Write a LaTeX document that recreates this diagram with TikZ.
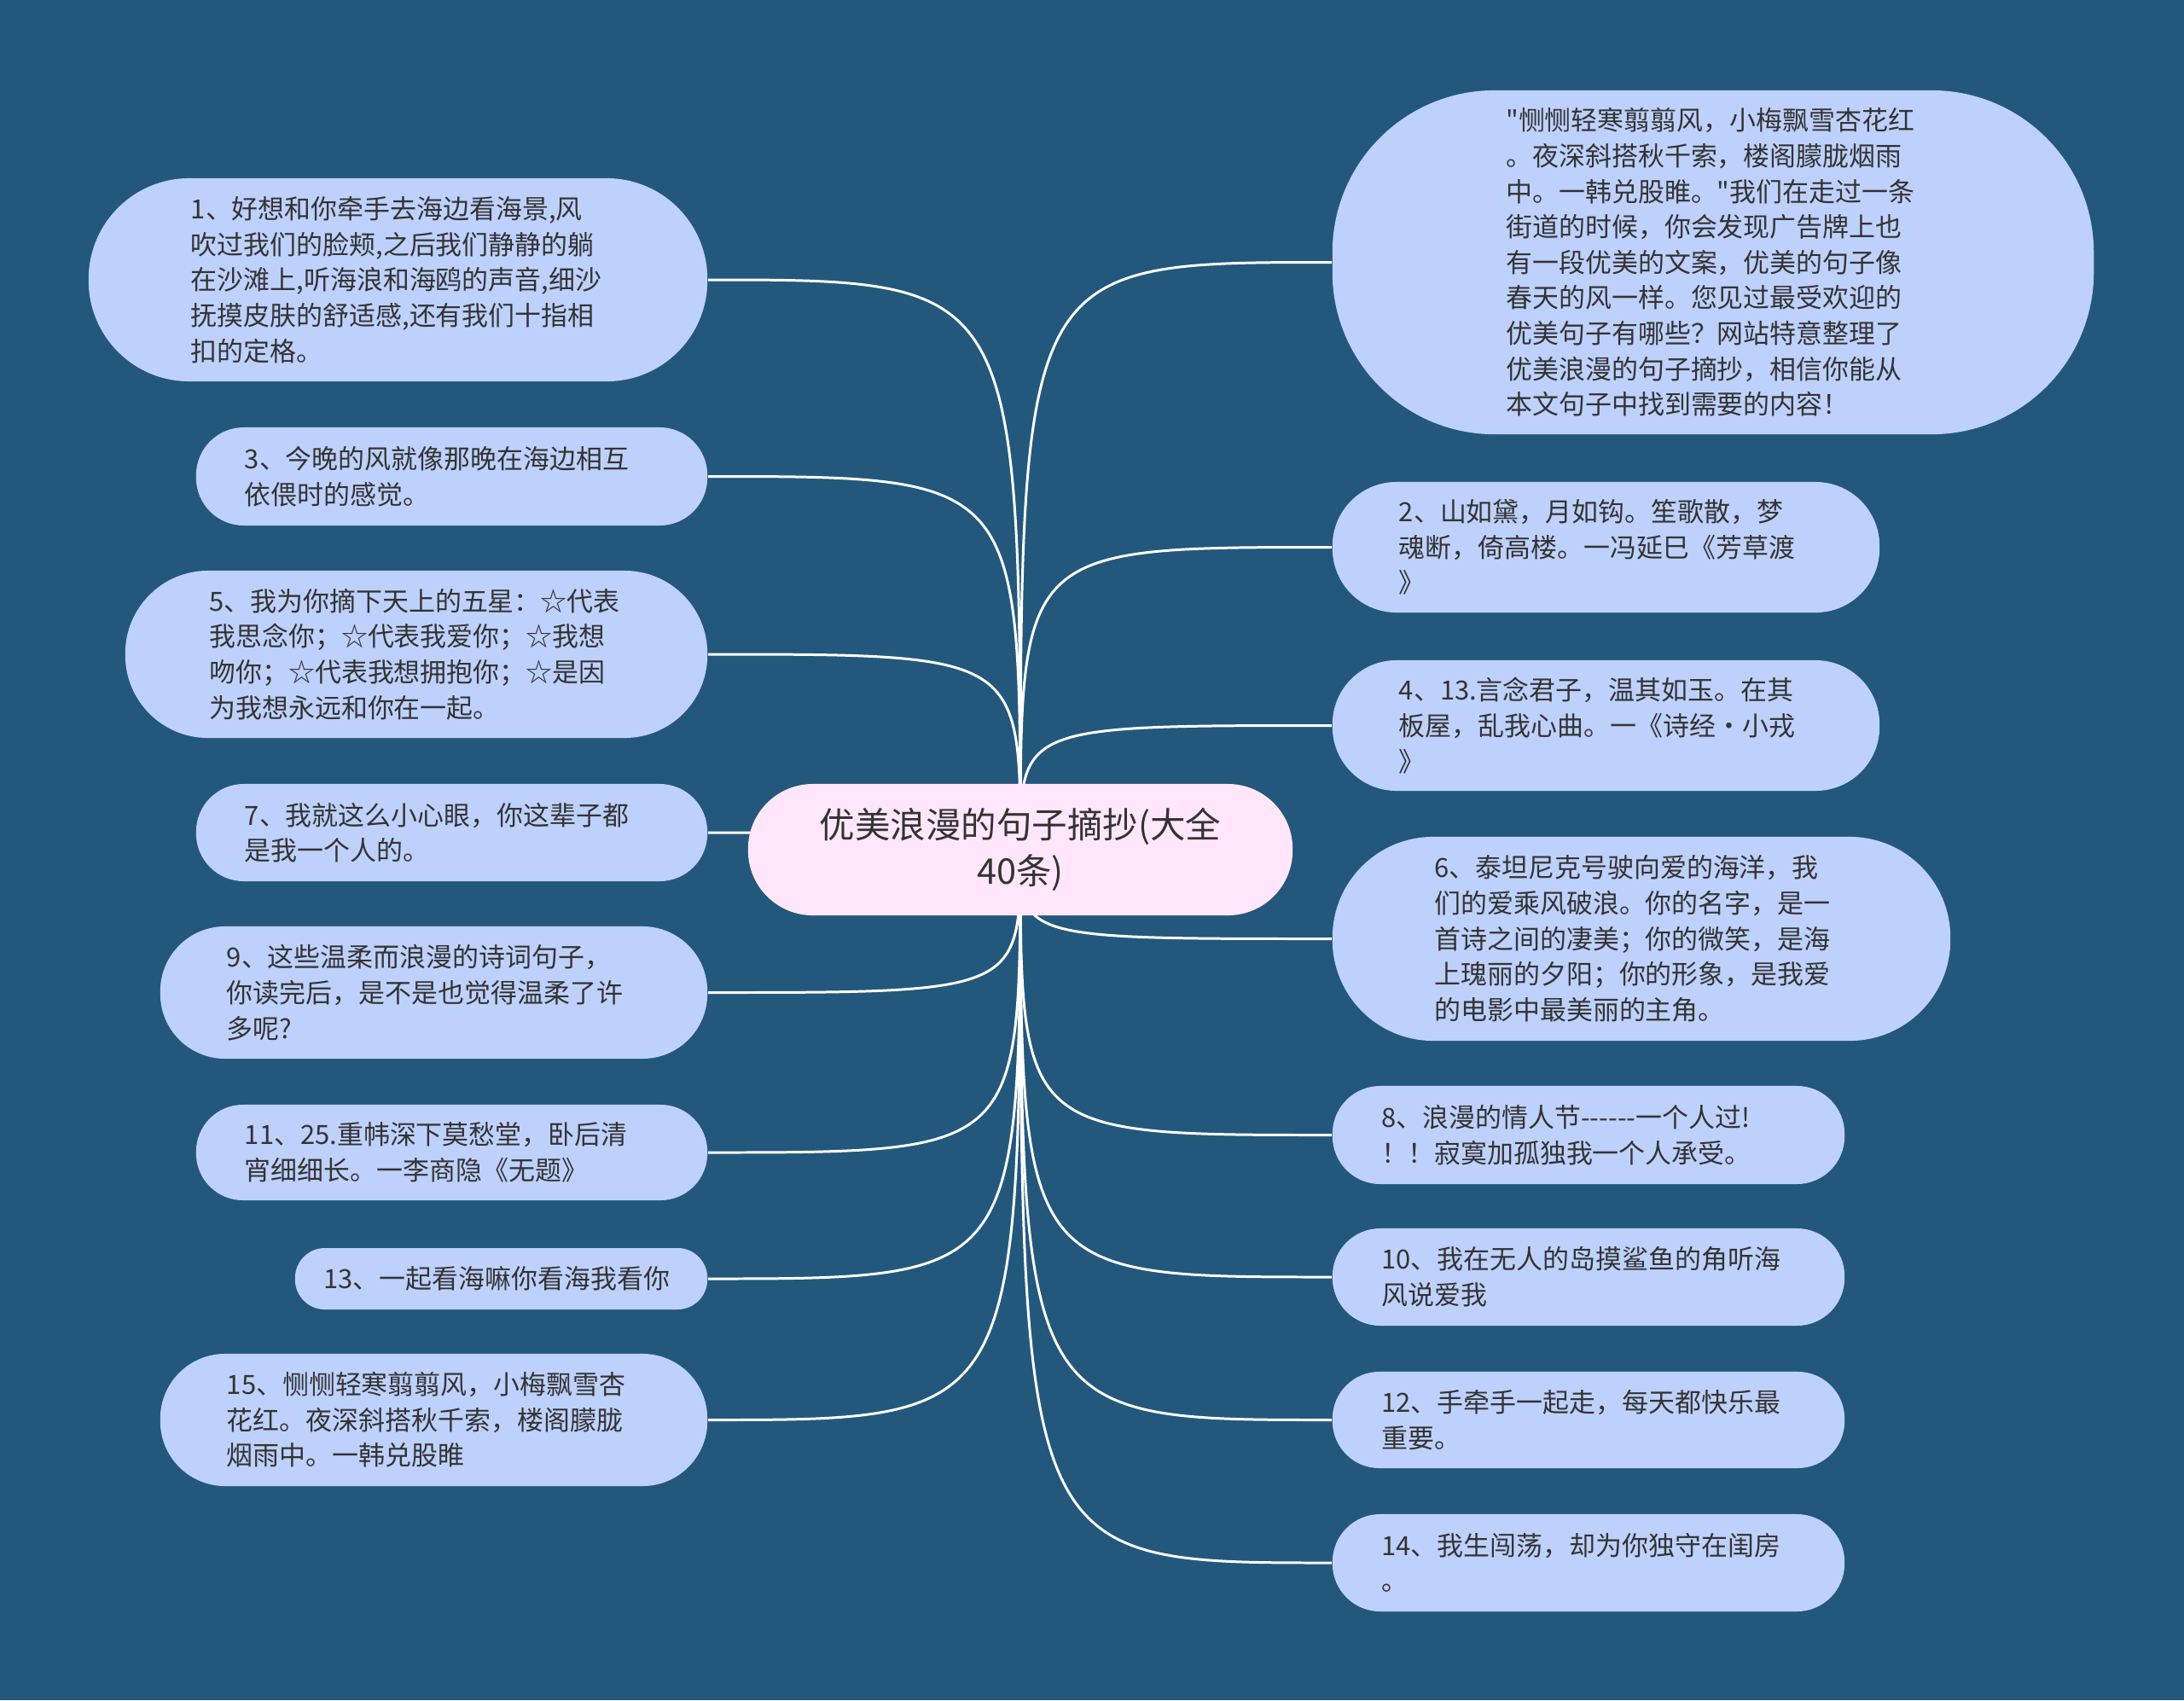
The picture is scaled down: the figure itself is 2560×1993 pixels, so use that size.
\documentclass[tikz,border=0pt]{standalone}
\usepackage{fontspec}
\setmainfont{Noto Sans CJK SC}[Ligatures=TeXOff]
\usetikzlibrary{backgrounds}

\definecolor{bgblue}{RGB}{35,88,124}
\definecolor{leaffill}{RGB}{190,209,252}
\definecolor{rootfill}{RGB}{255,230,251}
\definecolor{inkgray}{RGB}{51,51,51}

\tikzset{
  leaf/.style={rectangle, fill=leaffill, text=inkgray, align=left,
    inner sep=0pt, text width=4.85cm,
    font=\fontsize{8.8pt}{11.84pt}\selectfont},
  root/.style={rectangle, fill=rootfill, text=inkgray, align=center,
    inner sep=0pt, minimum width=6.38cm, minimum height=1.54cm,
    rounded corners=0.76cm, font=\fontsize{11.8pt}{15.4pt}\selectfont},
  link/.style={draw=white, line width=0.85pt},
}

\begin{document}
\begin{tikzpicture}[x=0.01cm, y=-0.01cm]
	\useasboundingbox (0,0) rectangle (2560,1993);

	\node[root] (root) at (1196,996) {优美浪漫的句子摘抄(大全\\40条)};

	% left side
	\node[leaf, minimum width=7.25cm, minimum height=2.38cm, rounded corners=1.18cm] (n1) at (466.5,328)
		{1、好想和你牵手去海边看海景,风\\吹过我们的脸颊,之后我们静静的躺\\在沙滩上,听海浪和海鸥的声音,细沙\\抚摸皮肤的舒适感,还有我们十指相\\扣的定格。};
	\node[leaf, minimum width=5.99cm, minimum height=1.15cm, rounded corners=0.56cm] (n3) at (529.5,558.5)
		{3、今晚的风就像那晚在海边相互\\依偎时的感觉。};
	\node[leaf, minimum width=6.82cm, minimum height=1.96cm, rounded corners=0.97cm] (n5) at (488,767)
		{5、我为你摘下天上的五星：☆代表\\我思念你；☆代表我爱你；☆我想\\吻你；☆代表我想拥抱你；☆是因\\为我想永远和你在一起。};
	\node[leaf, minimum width=5.99cm, minimum height=1.14cm, rounded corners=0.56cm] (n7) at (529.5,976)
		{7、我就这么小心眼，你这辈子都\\是我一个人的。};
	\node[leaf, minimum width=6.41cm, minimum height=1.55cm, rounded corners=0.76cm] (n9) at (508.5,1163.5)
		{9、这些温柔而浪漫的诗词句子，\\你读完后，是不是也觉得温柔了许\\多呢?};
	\node[leaf, minimum width=5.99cm, minimum height=1.12cm, rounded corners=0.55cm] (n11) at (529.5,1351)
		{11、25.重帏深下莫愁堂，卧后清\\宵细细长。一李商隐《无题》};
	\node[leaf, text width=4.16cm, minimum width=4.83cm, minimum height=0.72cm, rounded corners=0.35cm] (n13) at (587.5,1499)
		{13、一起看海嘛你看海我看你};
	\node[leaf, minimum width=6.41cm, minimum height=1.55cm, rounded corners=0.76cm] (n15) at (508.5,1664.5)
		{15、恻恻轻寒翦翦风，小梅飘雪杏\\花红。夜深斜搭秋千索，楼阁朦胧\\烟雨中。一韩兑股睢};

	% right side
	\node[leaf, minimum width=8.92cm, minimum height=4.03cm, rounded corners=1.9cm] (n0) at (2008,307.5)
		{"恻恻轻寒翦翦风，小梅飘雪杏花红\\。夜深斜搭秋千索，楼阁朦胧烟雨\\中。一韩兑股睢。"我们在走过一条\\街道的时候，你会发现广告牌上也\\有一段优美的文案，优美的句子像\\春天的风一样。您见过最受欢迎的\\优美句子有哪些？网站特意整理了\\优美浪漫的句子摘抄，相信你能从\\本文句子中找到需要的内容！};
	\node[leaf, minimum width=6.41cm, minimum height=1.53cm, rounded corners=0.75cm] (n2) at (1882.5,641.5)
		{2、山如黛，月如钩。笙歌散，梦\\魂断，倚高楼。一冯延巳《芳草渡\\》};
	\node[leaf, minimum width=6.41cm, minimum height=1.53cm, rounded corners=0.75cm] (n4) at (1882.5,850.5)
		{4、13.言念君子，温其如玉。在其\\板屋，乱我心曲。一《诗经·小戎\\》};
	\node[leaf, minimum width=7.24cm, minimum height=2.39cm, rounded corners=1.18cm] (n6) at (1924,1100.5)
		{6、泰坦尼克号驶向爱的海洋，我\\们的爱乘风破浪。你的名字，是一\\首诗之间的凄美；你的微笑，是海\\上瑰丽的夕阳；你的形象，是我爱\\的电影中最美丽的主角。};
	\node[leaf, minimum width=6.0cm, minimum height=1.15cm, rounded corners=0.56cm] (n8) at (1862,1330.5)
		{8、浪漫的情人节------一个人过!\\！！寂寞加孤独我一个人承受。};
	\node[leaf, minimum width=6.0cm, minimum height=1.14cm, rounded corners=0.56cm] (n10) at (1862,1497)
		{10、我在无人的岛摸鲨鱼的角听海\\风说爱我};
	\node[leaf, minimum width=6.0cm, minimum height=1.13cm, rounded corners=0.55cm] (n12) at (1862,1664.5)
		{12、手牵手一起走，每天都快乐最\\重要。};
	\node[leaf, minimum width=6.0cm, minimum height=1.14cm, rounded corners=0.56cm] (n14) at (1862,1832)
		{14、我生闯荡，却为你独守在闺房\\。};

	\begin{scope}[on background layer]
		\fill[bgblue] (0,0) rectangle (2560,1993);
		\foreach \n in {n1,n3,n5,n7,n9,n11,n13,n15}
		\draw[link] (root.center) .. controls (root.center |- \n.east) .. (\n.east);
		\foreach \n in {n0,n2,n4,n6,n8,n10,n12,n14}
		\draw[link] (root.center) .. controls (root.center |- \n.west) .. (\n.west);
	\end{scope}
\end{tikzpicture}
\end{document}
